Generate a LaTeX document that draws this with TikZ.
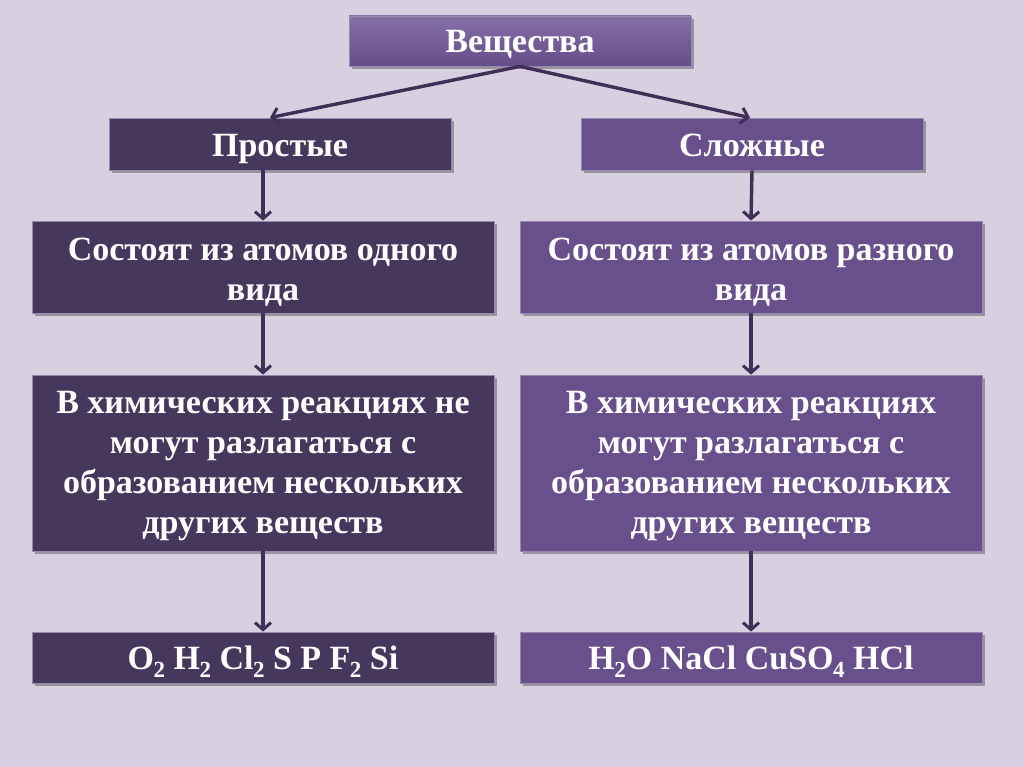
\documentclass[tikz,border=0pt]{standalone}
\usepackage{fontspec}
\setmainfont{Liberation Serif}
\usetikzlibrary{arrows.meta,shadows}
\definecolor{bgc}{RGB}{216,208,225}
\definecolor{darkbox}{RGB}{70,56,92}
\definecolor{lightbox}{RGB}{104,80,140}
\definecolor{topbox}{RGB}{112,86,152}
\definecolor{arrowc}{RGB}{62,48,86}
\definecolor{edgec}{RGB}{150,135,175}
\newcommand{\chemsub}[1]{\kern-0.5pt\raisebox{-8pt}{\fontsize{23}{23}\selectfont #1}}
\tikzset{
  boxbase/.style={rectangle, draw=edgec, line width=0.8pt, inner sep=0pt,
    drop shadow={shadow xshift=3pt, shadow yshift=-3pt, opacity=0.45, fill=black!70}},
  darkb/.style={boxbase, fill=darkbox},
  lightb/.style={boxbase, fill=lightbox},
  topb/.style={boxbase, top color=topbox!85!white, bottom color=topbox!90!black},
  txt/.style={text=white, font=\fontsize{34}{40}\selectfont\bfseries, align=flush center,
    inner sep=0pt, anchor=base, text width=455pt},
  conn/.style={draw=arrowc, line width=3.4pt, -{Straight Barb[length=7pt,width=16pt,line width=3pt]}}
}
\begin{document}
\begin{tikzpicture}[x=1pt,y=-1pt]
\fill[bgc] (0,0) rectangle (1024,767);
\useasboundingbox (0,0) rectangle (1024,767);
% boxes
\node[topb, minimum width=342pt, minimum height=50pt] (top) at (520,41) {};
\node[darkb, minimum width=342pt, minimum height=52pt] (p) at (280,144) {};
\node[lightb, minimum width=342pt, minimum height=52pt] (s) at (752,144) {};
\node[darkb, minimum width=462pt, minimum height=92pt] (l3) at (263,267) {};
\node[lightb, minimum width=462pt, minimum height=92pt] (r3) at (751,267) {};
\node[darkb, minimum width=462pt, minimum height=176pt] (l4) at (263,463) {};
\node[lightb, minimum width=462pt, minimum height=176pt] (r4) at (751,463) {};
\node[darkb, minimum width=462pt, minimum height=51pt] (l5) at (263,657.5) {};
\node[lightb, minimum width=462pt, minimum height=51pt] (r5) at (751,657.5) {};
% texts
\node[txt] (ttop) at ([yshift=-12pt]top.center) {Вещества};
\node[txt] (tp) at ([yshift=-13pt]p.center) {Простые};
\node[txt] (ts) at ([yshift=-13pt]s.center) {Сложные};
\node[txt] (tl3) at ([yshift=7pt]l3.center) {Состоят из атомов одного\\вида};
\node[txt] (tr3) at ([yshift=7pt]r3.center) {Состоят из атомов разного\\вида};
\node[txt] (tl4) at ([yshift=50pt]l4.center) {В химических реакциях не\\могут разлагаться с\\образованием нескольких\\других веществ};
\node[txt] (tr4) at ([yshift=50pt]r4.center) {В химических реакциях\\могут разлагаться с\\образованием нескольких\\других веществ};
\node[txt] (tl5) at ([yshift=-11.5pt]l5.center) {O\chemsub{2} H\chemsub{2} Cl\chemsub{2} S P F\chemsub{2} Si};
\node[txt] (tr5) at ([yshift=-11.5pt]r5.center) {H\chemsub{2}O NaCl CuSO\chemsub{4} HCl};
% connectors
\draw[conn] (top.south) -- ([xshift=-10pt]p.north);
\draw[conn] (top.south) -- ([xshift=-2pt]s.north);
\draw[conn] ([xshift=-17pt]p.south) -- (l3.north);
\draw[conn] (l3.south) -- (l4.north);
\draw[conn] (l4.south) -- (l5.north);
\draw[conn] (s.south) -- (r3.north);
\draw[conn] (r3.south) -- (r4.north);
\draw[conn] (r4.south) -- (r5.north);
\end{tikzpicture}
\end{document}
